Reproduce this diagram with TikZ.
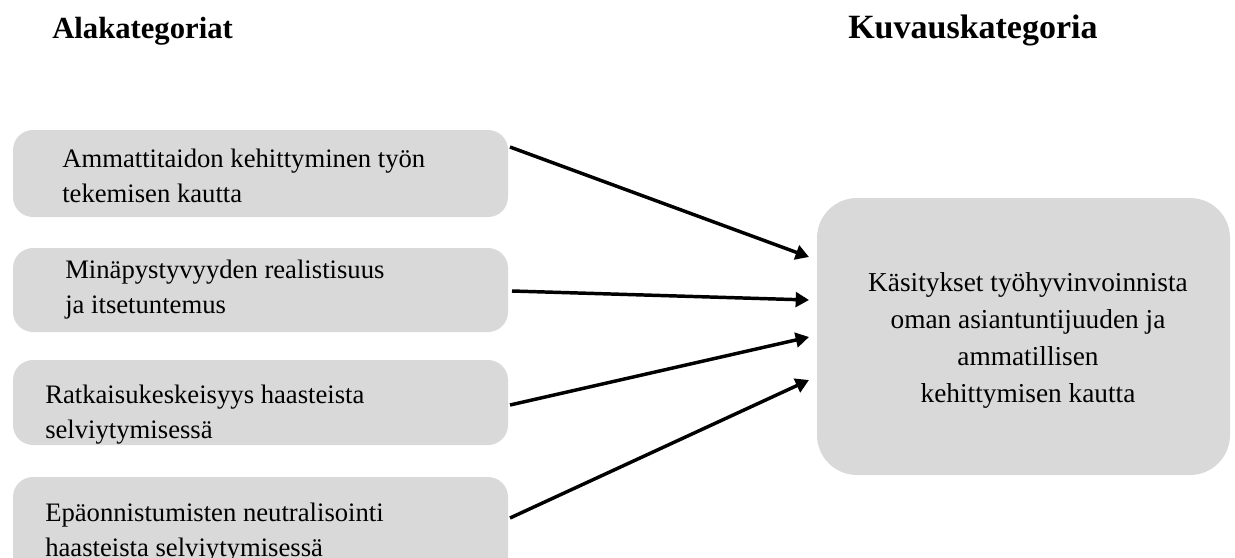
\documentclass[tikz,border=0pt]{standalone}
\usepackage{fontspec}
\setmainfont{Liberation Serif}
\usetikzlibrary{arrows.meta}
\definecolor{boxgray}{HTML}{D9D9D9}
\tikzset{
  smallbox/.style={fill=boxgray, draw=none, rounded corners=15pt, minimum width=371.25pt, inner sep=0pt},
  bigbox/.style={fill=boxgray, draw=none, rounded corners=30pt, minimum width=309.75pt, minimum height=207.75pt, inner sep=0pt},
  txt/.style={inner sep=0pt, align=left, font=\fontsize{20}{26.25}\selectfont},
  bigtxt/.style={inner sep=0pt, align=center, font=\fontsize{20.5}{27.75}\selectfont},
  head/.style={inner sep=0pt, anchor=base west, font=\bfseries\fontsize{23}{27}\selectfont},
  conn/.style={line width=2.6pt, -{Triangle[length=10pt,width=11pt]}}
}
\begin{document}
\begin{tikzpicture}[x=0.75pt,y=-0.75pt]
\useasboundingbox (0,0) rectangle (1235,557);
\clip (0,0) rectangle (1235,557);
% headers
\node[head] (h1) at (52,38) {Alakategoriat};
\node[head, font=\bfseries\fontsize{25.5}{29}\selectfont] (h2) at (848,38) {Kuvauskategoria};
% left boxes
\node[smallbox, minimum height=65.25pt] (b1) at (260.5,173.5) {};
\node[smallbox, minimum height=63pt] (b2) at (260.5,290) {};
\node[smallbox, minimum height=63.75pt] (b3) at (260.5,402.5) {};
\node[smallbox, minimum height=92.25pt] (b4) at (260.5,538.5) {};
% right box
\node[bigbox] (big) at (1023.5,336.5) {};
% texts
\node[txt, anchor=north west] (t1) at (62,149) {Ammattitaidon kehittyminen työn\\tekemisen kautta};
\node[txt, anchor=north west] (t2) at (65,260) {Minäpystyvyyden realistisuus\\ja itsetuntemus};
\node[txt, anchor=north west] (t3) at (45,385) {Ratkaisukeskeisyys haasteista\\selviytymisessä};
\node[txt, anchor=north west] (t4) at (45,503) {Epäonnistumisten neutralisointi\\haasteista selviytymisessä};
\node[bigtxt, anchor=north] (tb) at (1028,272) {Käsitykset työhyvinvoinnista\\oman asiantuntijuuden ja\\ammatillisen\\kehittymisen kautta};
% connector ends
\coordinate (s1) at (510,147);
\coordinate (s2) at (512,291);
\coordinate (s3) at (510,405);
\coordinate (s4) at (510,518);
\coordinate (e1) at (809,257);
\coordinate (e2) at (809,300);
\coordinate (e3) at (809,337);
\coordinate (e4) at (809,380);
\draw[conn] (s1) -- (e1);
\draw[conn] (s2) -- (e2);
\draw[conn] (s3) -- (e3);
\draw[conn] (s4) -- (e4);
\end{tikzpicture}
\end{document}
